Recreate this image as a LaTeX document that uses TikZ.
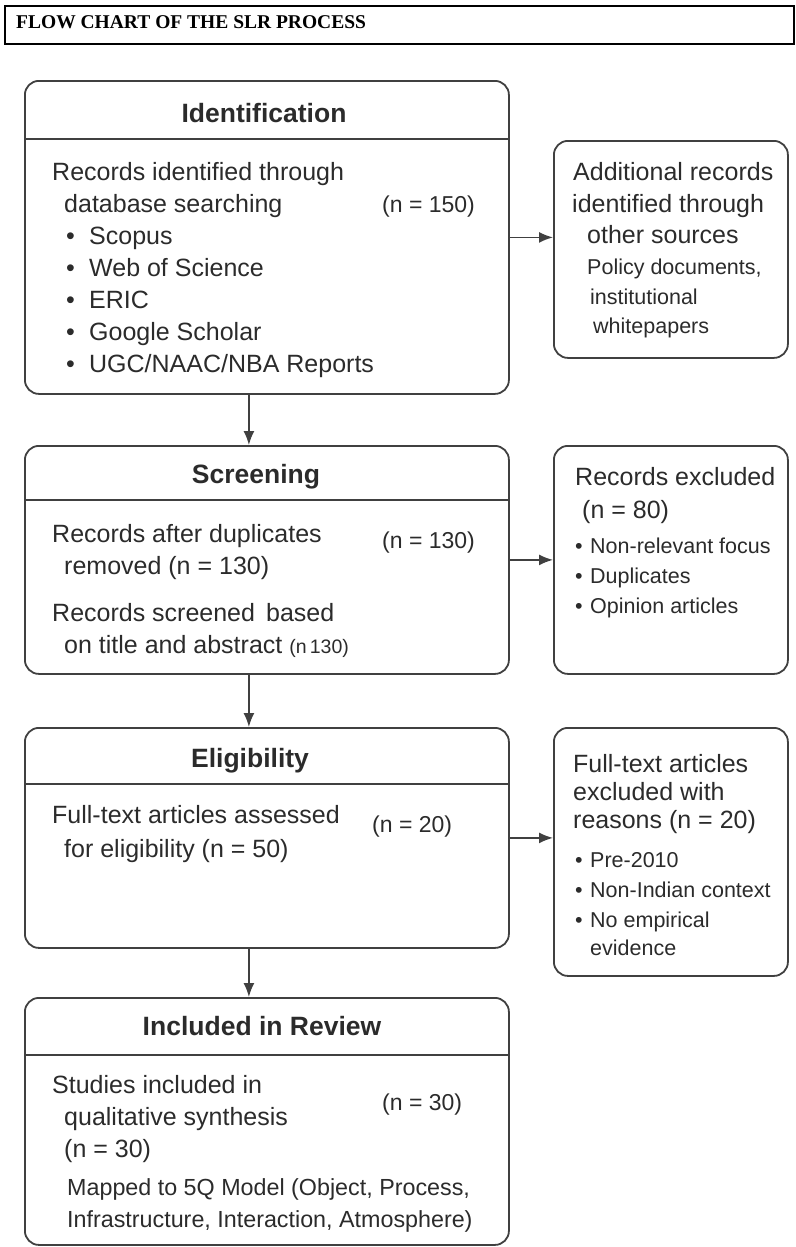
\documentclass[tikz,border=0pt]{standalone}
\usepackage{fontspec}
\setmainfont{Liberation Sans}
\newfontfamily\titlefont{Liberation Serif}
\usetikzlibrary{arrows.meta}
\definecolor{linec}{HTML}{404040}
\definecolor{txtc}{HTML}{2B2B2B}
\begin{document}
\begin{tikzpicture}[x=1pt,y=-1pt,
  box/.style={draw=linec, line width=1.8pt, rounded corners=14pt, anchor=north west, inner sep=0pt, minimum width=#1},
  divider/.style={draw=linec, line width=1.8pt},
  arr/.style={draw=linec, line width=1.6pt, -{Latex[length=14pt,width=11pt]}},
  hd/.style={font=\fontsize{26.5}{31}\selectfont\bfseries, text=txtc, inner sep=0pt, anchor=base},
  bt/.style={font=\fontsize{25}{30}\selectfont, text=txtc, inner sep=0pt, anchor=base west},
  nt/.style={font=\fontsize{23}{28}\selectfont, text=txtc, inner sep=0pt, anchor=base west},
  st/.style={font=\fontsize{21.5}{26}\selectfont, text=txtc, inner sep=0pt, anchor=base west},
  mt/.style={font=\fontsize{23.3}{28}\selectfont, text=txtc, inner sep=0pt, anchor=base west},
  titlestyle/.style={font=\titlefont\fontsize{19.5}{22}\selectfont\bfseries, text=black, inner sep=0pt, anchor=base west}
]
\useasboundingbox (0,0) rectangle (795,1247);

% title
\node[draw=black, line width=2pt, anchor=north west, minimum width=789pt, minimum height=38pt, inner sep=0pt] (titlebox) at (4,5) {};
\node[titlestyle] (title) at (16,29) {FLOW CHART OF THE SLR PROCESS};

% main boxes
\node[box=484pt, minimum height=313pt] (id) at (24,80) {};
\node[box=484pt, minimum height=228pt] (scr) at (24,445) {};
\node[box=484pt, minimum height=220pt] (eli) at (24,727) {};
\node[box=484pt, minimum height=247pt] (inc) at (24,997) {};

% side boxes
\node[box=234pt, minimum height=217pt] (add) at (553,140) {};
\node[box=234pt, minimum height=228pt] (exc) at (553,445) {};
\node[box=234pt, minimum height=248pt] (ful) at (553,727) {};

% dividers
\draw[divider] (24,139) -- (508,139);
\draw[divider] (24,500) -- (508,500);
\draw[divider] (24,784) -- (508,784);
\draw[divider] (24,1055) -- (508,1055);

% headers
\node[hd] (hid) at (264,122) {Identification};
\node[hd] (hscr) at (256,483) {Screening};
\node[hd] (heli) at (250,767) {Eligibility};
\node[hd] (hinc) at (262,1035) {Included in Review};

% identification text
\node[bt] (i1) at (52,180) {Records identified through};
\node[bt] (i2) at (64,212) {database searching};
\node[nt] (in) at (382,212) {(n = 150)};
\node[bt] (b1) at (66,244) {\makebox[23pt][l]{•}Scopus};
\node[bt] (b2) at (66,276) {\makebox[23pt][l]{•}Web of Science};
\node[bt] (b3) at (66,308) {\makebox[23pt][l]{•}ERIC};
\node[bt] (b4) at (66,340) {\makebox[23pt][l]{•}Google Scholar};
\node[bt] (b5) at (66,372) {\makebox[23pt][l]{•}UGC/NAAC/NBA Reports};

% screening text
\node[bt] (s1) at (52,542) {Records after duplicates};
\node[bt] (s2) at (64,574) {removed (n = 130)};
\node[nt] (sn) at (382,548) {(n = 130)};
\node[bt] (s3) at (52,621) {Records screened\, based};
\node[bt] (s4) at (64,653) {on title and abstract {\fontsize{19.5}{22}\selectfont(n\,130)}};

% eligibility text
\node[bt] (e1) at (52,823) {Full-text articles assessed};
\node[bt] (e2) at (64,857) {for eligibility (n = 50)};
\node[nt] (en) at (372,832) {(n = 20)};

% included text
\node[bt] (c1) at (52,1093) {Studies included in};
\node[bt] (c2) at (64,1125) {qualitative synthesis};
\node[bt] (c3) at (64,1157) {(n = 30)};
\node[nt] (cn) at (382,1110) {(n = 30)};
\node[mt] (c4) at (67,1195) {Mapped to 5Q Model (Object, Process,};
\node[mt] (c5) at (67,1227) {Infrastructure, Interaction, Atmosphere)};

% additional box text
\node[bt] (a1) at (573,180) {Additional records};
\node[bt] (a2) at (572,212) {identified through};
\node[bt] (a3) at (587,243) {other sources};
\node[st] (a4) at (587,274) {Policy documents,};
\node[st] (a5) at (590,304) {institutional};
\node[st] (a6) at (593,333) {whitepapers};

% excluded box text
\node[bt] (x1) at (575,485) {Records excluded};
\node[bt] (x2) at (582,518) {(n = 80)};
\node[st] (x3) at (575,553) {\makebox[15pt][l]{•}Non-relevant focus};
\node[st] (x4) at (575,583) {\makebox[15pt][l]{•}Duplicates};
\node[st] (x5) at (575,613) {\makebox[15pt][l]{•}Opinion articles};

% full-text box text
\node[bt] (f1) at (573,772) {Full-text articles};
\node[bt] (f2) at (573,800) {excluded with};
\node[bt] (f3) at (573,828) {reasons (n = 20)};
\node[st] (f4) at (575,867) {\makebox[15pt][l]{•}Pre-2010};
\node[st] (f5) at (575,897) {\makebox[15pt][l]{•}Non-Indian context};
\node[st] (f6) at (575,927) {\makebox[15pt][l]{•}No empirical};
\node[st] (f7) at (590,955) {evidence};

% connectors
\draw[arr] ([xshift=-18pt]id.south) -- ([xshift=-18pt]scr.north);
\draw[arr] ([xshift=-18pt]scr.south) -- ([xshift=-18pt]eli.north);
\draw[arr] ([xshift=-18pt]eli.south) -- ([xshift=-18pt]inc.north);
\draw[arr] (id.east) -- (id.east -| add.west);
\draw[arr] (scr.east) -- (scr.east -| exc.west);
\draw[arr] (eli.east) -- (eli.east -| ful.west);
\end{tikzpicture}
\end{document}
